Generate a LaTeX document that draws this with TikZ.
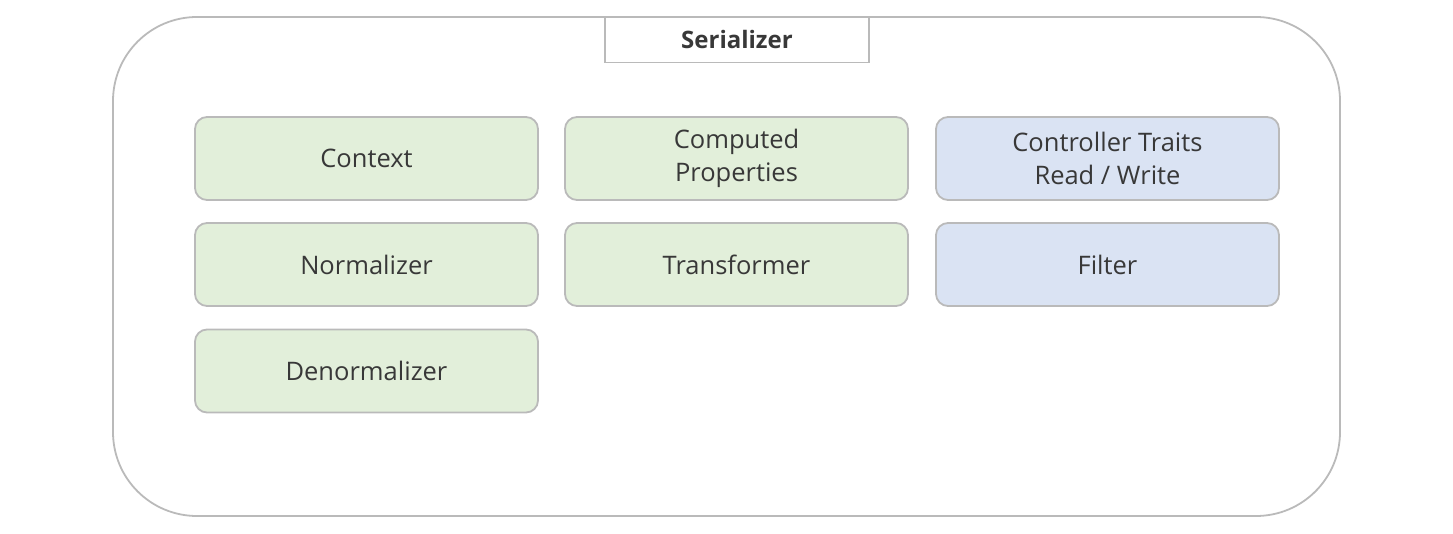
\documentclass[tikz,border=0pt]{standalone}
\usepackage{fontspec}
\setmainfont{Open Sans}
\begin{document}
\begin{tikzpicture}[x=1pt,y=-1pt,
  every node/.style={font=\fontsize{25.5}{33}\selectfont, text=black!78},
  item/.style={draw=black!27, line width=1.8pt, rounded corners=12pt, minimum width=343pt, minimum height=83pt, align=center, inner sep=0pt},
  greenbox/.style={item, fill=gfill},
  bluebox/.style={item, fill=bfill}]
\definecolor{gfill}{HTML}{E2EFDA}
\definecolor{bfill}{HTML}{DAE3F3}
\useasboundingbox (0,0) rectangle (1453,534);
\draw[black!27, line width=1.8pt, rounded corners=84pt] (113,17) rectangle (1340,516);
\node[draw=black!27, line width=1.8pt, fill=white, minimum width=264pt, minimum height=45pt, inner sep=0pt, font=\fontsize{24}{28}\selectfont\bfseries] (title) at (737,40) {Serializer};
\node[greenbox] (context) at (366.5,158.5) {Context};
\node[greenbox] (computed) at (736.5,158.5) {Computed\\Properties};
\node[bluebox] (traits) at (1107.5,158.5) {Controller Traits\\Read / Write};
\node[greenbox] (normalizer) at (366.5,264.5) {Normalizer};
\node[greenbox] (transformer) at (736.5,264.5) {Transformer};
\node[bluebox] (filter) at (1107.5,264.5) {Filter};
\node[greenbox] (denormalizer) at (366.5,371) {Denormalizer};
\end{tikzpicture}
\end{document}
